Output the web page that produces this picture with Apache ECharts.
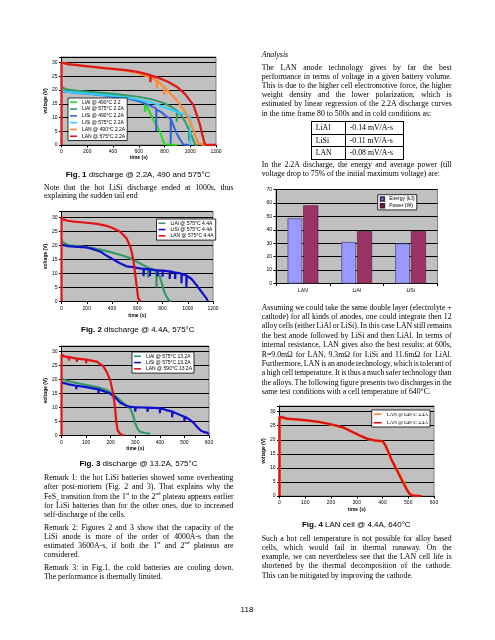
<!DOCTYPE html>
<html><head><meta charset="utf-8">
<script src="https://cdn.jsdelivr.net/npm/echarts@6/dist/echarts.min.js"></script>
<style>
html,body{margin:0;padding:0;background:#fff;width:495px;height:640px;overflow:hidden;}
#chart{position:absolute;left:0;top:0;width:495px;height:640px;}
.t{position:absolute;font-family:"Liberation Serif","Times New Roman",serif;font-size:7.8px;line-height:9.4px;height:9.4px;white-space:nowrap;color:#000;}
.t sup,.t sub{font-size:5px;line-height:0;}
.cap{position:absolute;font-family:"Liberation Sans",Arial,sans-serif;font-size:8px;white-space:nowrap;transform:translate(-50%,-50%);color:#000;}
table.tb{position:absolute;border-collapse:collapse;font-family:"Liberation Serif","Times New Roman",serif;font-size:7.8px;}
table.tb td{border:1px solid #000;padding:0 0 0 4px;height:11.5px;line-height:11px;white-space:nowrap;}
</style></head><body>
<div id="chart"></div>
<div id="txt"></div>
<script>
// ---------- DATA ----------
// Fig. 1 : discharge @ 2.2A, 490 and 575°C  ([time s, voltage V])
const f1Names = ['LiAl @ 490°C 2.2','LiAl @ 575°C 2.2A','LiSi @ 490°C 2.2A','LiSi @ 575°C 2.2A','LAN @ 490°C 2.2A','LAN @ 575°C 2.2A'];
const f1_LiAl490 = [[0,21],[20,20.3],[100,19.8],[200,19.3],[300,18.8],[400,18.2],[500,17.4],[560,16.5],[623,15.5],[649,15],[649,12],[652,14.8],[680,12.5],[714,9],[740,7],[766,4.8],[785,2],[800,0.3],[810,0],[900,0]];
const f1_LiAl575 = [[0,21.2],[30,20.3],[100,19.8],[200,19.4],[300,19],[400,18.6],[500,18.1],[600,17.5],[700,16.6],[780,15.5],[850,14],[895,12.5],[895,8.5],[898,12.4],[930,10.8],[960,8.5],[990,5.5],[990,1.5],[993,5.3],[1010,3.5],[1030,1],[1040,0],[1060,0]];
const f1_LiSi490 = [[0,19.5],[100,19],[200,18.6],[300,18.2],[400,17.6],[500,17],[600,16],[680,14.5],[735,13.3],[735,5],[738,13],[780,11.8],[817,10.3],[848,9.5],[848,0.5],[851,9.3],[870,7],[895,4.2],[920,2],[947,0.2],[960,0],[1000,0]];
const f1_LiSi575 = [[0,19.8],[50,19.3],[100,19.1],[200,18.7],[300,18.3],[400,17.9],[500,17.3],[600,16.5],[700,15.4],[760,14.5],[800,13.6],[850,12.8],[900,12],[950,11.2],[1000,10.5],[1000,0]];
const f1_LAN490 = [[0,29.8],[100,29.2],[200,28.6],[300,28.1],[400,27.7],[500,27],[600,26],[650,25.2],[700,24.5],[740,23.4],[740,20.5],[743,23.3],[766,22.4],[797,21],[797,18.2],[800,20.9],[830,19.5],[895,16.3],[940,13.5],[973,10.9],[1000,8.2],[1025,5.4],[1045,2.8],[1064,0.5],[1075,0],[1120,0]];
const f1_LAN575 = [[0,0],[0,30],[50,29.4],[150,28.9],[246,28.4],[350,27.9],[506,27.2],[600,26.5],[690,25.4],[690,22.8],[693,25.3],[766,24.2],[830,22.9],[895,21.2],[960,18.5],[1025,14.5],[1050,11],[1076,7.3],[1095,3.5],[1110,0.8],[1120,0],[1200,0]];

// Fig. 2 : discharge @ 4.4A, 575°C
const f2Names = ['LiAl @ 575°C 4.4A','LiSi @ 575°C 4.4A','LAN @ 575°C 4.4A'];
const f2_LiAl = [[0,21.6],[30,20.5],[60,20],[150,19.6],[250,19],[350,18],[450,16.8],[520,15.8],[570,14.8],[620,13.6],[686,12],[686,8.5],[689,11.9],[726,11.3],[752,10.2],[752,5],[755,10],[778,8.9],[795,6.5],[805,4.7],[818,3],[831,1.8],[850,0.5],[870,0]];
const f2_LiSi = [[0,20.2],[50,19.7],[100,19.5],[200,19.2],[250,18.6],[305,17.8],[350,16.5],[400,15.2],[463,13.6],[515,12.5],[568,12.2],[620,11.8],[650,11.6],[650,9],[653,11.6],[700,11.4],[700,9],[703,11.4],[726,11.3],[760,11.1],[760,9],[763,11.1],[800,11],[800,8.8],[803,11],[857,10.7],[857,8],[860,10.7],[900,10.3],[900,8],[903,10.3],[950,9.9],[950,6.5],[953,9.8],[989,9.3],[989,5],[992,9.2],[1030,8],[1068,5.9],[1100,4],[1130,2.2],[1147,1.2],[1160,0]];
const f2_LAN = [[0,0],[0,30],[15,29.2],[50,28.7],[100,28.4],[200,28],[280,27.6],[350,27],[400,26.2],[463,24.9],[515,22.5],[540,20],[555,17.8],[570,14.5],[581,10.7],[594,5.9],[607,1.2],[626,0]];

// Fig. 3 : discharge @ 13.2A, 575°C
const f3Names = ['LiAl @ 575°C 13.2A','LiSi @ 575°C 13.2A','LAN @ 590°C 13.2A'];
const f3_LiAl = [[0,20.4],[20,19.6],[50,19],[103,18],[150,17.2],[185,16.2],[210,14.8],[239,12.6],[260,11],[280,9.6],[292,7],[300,4.3],[310,2.3],[320,1.3],[340,0.9],[361,0.7]];
const f3_LiSi = [[0,19],[30,18.3],[60,17.8],[60,16.5],[62,17.8],[100,17.3],[150,16.5],[150,15],[152,16.5],[198,15],[220,13.5],[239,11.7],[260,10.8],[280,10.2],[300,10.1],[300,8.5],[302,10.1],[350,10],[350,8.5],[352,10],[400,9.8],[400,8],[402,9.8],[429,9],[450,8.6],[450,6.5],[452,8.5],[483,7.3],[500,6.7],[500,5],[502,6.7],[524,5.5],[540,4.3],[551,3.1],[565,1.9],[580,1.2],[592,1],[600,0.5]];
const f3_LAN = [[0,0],[0,29],[10,28.3],[30,28],[30,26.8],[32,28],[62,27.5],[62,26.3],[64,27.5],[100,27.1],[100,25.8],[102,27.1],[143,26.4],[170,24.8],[185,22.5],[198,19.8],[210,15],[218,10],[222,5.5],[228,1.9],[239,0.5],[255,0]];

// Fig. 4 : LAN cell @ 4.4A, 640°C
const f4Names = ['LAN @ 640°C 4.4A','LAN @ 640°C 4.4A'];
const f4_LAN_a = [[0,0],[0,28],[30,27.4],[100,26.9],[150,26.3],[200,25.4],[250,24.2],[290,22.4],[310,21.5],[340,20.3],[370,19.7],[400,19.3],[410,18],[423,15.3],[435,12.5],[449,10.5],[462,8.5],[475,6.3],[485,4.5],[494,2.7],[507,0.8],[520,0.2],[540,0]];
const f4_LAN_b = [[0,0],[0,28.2],[30,27.5],[100,27],[150,26.4],[200,25.5],[250,24.3],[290,22.5],[310,21.6],[340,20.4],[370,19.8],[400,19.5],[410,18.3],[423,15.7],[435,13],[449,10.4],[462,8],[475,5.6],[485,3.8],[494,2.3],[507,0.5],[520,0.1],[552,0]];

// Energy / power bar chart
const barCats = ['LAN','LiAl','LiSi'];
const barNames = ['Energy (kJ)','Power (W)'];
const energy = [48.5,30.8,29.8];
const power = [58.2,39,39];

// ---------- CHART ----------
const FONT = '"Liberation Sans", Arial, sans-serif';
const GREY = '#c0c0c0';
function grid(l,t,w,h){return {left:l,top:t,width:w,height:h,show:true,backgroundColor:GREY,borderColor:'#808080',borderWidth:1,containLabel:false};}
function xAx(i,max,interval,nameGap){
  return {type:'value',gridIndex:i,min:0,max:max,interval:interval,
    axisLine:{show:true,onZero:false,lineStyle:{color:'#000',width:1}},
    axisTick:{show:true,length:2.5,lineStyle:{color:'#000'}},
    axisLabel:{fontSize:5,color:'#000',margin:4.5,fontFamily:FONT,formatter:v=>String(v)},
    splitLine:{show:false},
    name:'time (s)',nameLocation:'middle',nameGap:nameGap,
    nameTextStyle:{fontSize:5,fontWeight:'bold',color:'#000',fontFamily:FONT}};
}
function yAx(i){
  return {type:'value',gridIndex:i,min:0,max:32,interval:5,
    axisLine:{show:true,lineStyle:{color:'#000',width:1}},
    axisTick:{show:true,length:2.5,lineStyle:{color:'#000'}},
    axisLabel:{fontSize:5,color:'#000',margin:4,fontFamily:FONT,formatter:v=>(v%5===0?String(v):'')},
    splitLine:{show:true,lineStyle:{color:'#000',width:1}},
    name:'voltage (V)',nameLocation:'middle',nameGap:10,
    nameTextStyle:{fontSize:5,fontWeight:'bold',color:'#000',fontFamily:FONT}};
}
function ln(name,i,data,color,w){
  return {type:'line',name:name,xAxisIndex:i,yAxisIndex:i,data:data,showSymbol:false,
    lineStyle:{color:color,width:w||2},itemStyle:{color:color},animation:false};
}
function leg(ids,left,top,gap,opt){
  return Object.assign({orient:'vertical',left:left,top:top,data:ids,icon:'rect',
    itemWidth:7,itemHeight:1.6,itemGap:gap,padding:[1.5,2,1.5,2],
    backgroundColor:'#fff',borderColor:'#000',borderWidth:0.8,borderRadius:0,
    textStyle:{fontSize:5,color:'#000',fontFamily:FONT,lineHeight:5.5}},opt||{});
}
const c1 = ['#22dd22','#339966','#3366dd','#33ccff','#ff8c33','#dd1a1a'];
const c2 = ['#339966','#1010cc','#e01414'];
const f1Data = [f1_LiAl490,f1_LiAl575,f1_LiSi490,f1_LiSi575,f1_LAN490,f1_LAN575];
const f2Data = [f2_LiAl,f2_LiSi,f2_LAN];
const f3Data = [f3_LiAl,f3_LiSi,f3_LAN];

const series = [];
f1Names.forEach((n,k)=>series.push(ln(n,0,f1Data[k],c1[k],k>=4?2.3:2)));
f2Names.forEach((n,k)=>series.push(ln(n,1,f2Data[k],c2[k],2.2)));
f3Names.forEach((n,k)=>series.push(ln(n,2,f3Data[k],c2[k],2.2)));
series.push(ln('f4a',3,f4_LAN_a,'#ff8833',2.6));
series.push(ln('f4b',3,f4_LAN_b,'#d41414',2.2));
series.push({type:'bar',name:barNames[0],xAxisIndex:4,yAxisIndex:4,data:energy,barWidth:14.5,barGap:'8%',
  itemStyle:{color:'#9999ff',borderColor:'#333366',borderWidth:0.6},animation:false});
series.push({type:'bar',name:barNames[1],xAxisIndex:4,yAxisIndex:4,data:power,barWidth:15,barGap:'8%',
  itemStyle:{color:'#993366',borderColor:'#4d1a33',borderWidth:0.6},animation:false});

const f4Label = {f4a:f4Names[0],f4b:f4Names[1]};
const option = {
  animation:false,
  backgroundColor:'transparent',
  grid:[grid(61.5,57,154.5,88),grid(61.5,211.5,151.5,90),grid(61.5,346,147.5,89.5),grid(279.5,406,154.5,90),grid(276,189.5,161.5,94)],
  xAxis:[xAx(0,1200,200,10),xAx(1,1200,200,11.5),xAx(2,600,100,11),xAx(3,600,100,11.5),
    {type:'category',gridIndex:4,data:barCats,axisLine:{lineStyle:{color:'#000'}},
     axisTick:{show:true,length:2.5,alignWithLabel:false,lineStyle:{color:'#000'}},
     axisLabel:{fontSize:5,color:'#000',margin:5,fontFamily:FONT},splitLine:{show:false}}],
  yAxis:[yAx(0),yAx(1),yAx(2),yAx(3),
    {type:'value',gridIndex:4,min:0,max:70,interval:10,
     axisLine:{show:true,lineStyle:{color:'#000'}},axisTick:{show:true,length:2.5,lineStyle:{color:'#000'}},
     axisLabel:{fontSize:5,color:'#000',margin:4,fontFamily:FONT},
     splitLine:{show:true,lineStyle:{color:'#000',width:1}}}],
  legend:[
    leg(f1Names,68,98,1.3),
    leg(f2Names,156.5,219,0.8),
    leg(f3Names,132,352,0.8),
    leg(['f4a','f4b'],371.7,410,3,{itemWidth:8,formatter:n=>f4Label[n],
      textStyle:{fontSize:5,color:'#000',fontFamily:'"Liberation Serif","Times New Roman",serif',lineHeight:5.5}}),
    leg(barNames,377.7,194.7,1.2,{itemWidth:3.5,itemHeight:3.5})
  ],
  series:series
};
const chart = echarts.init(document.getElementById('chart'),null,{renderer:'canvas'});
chart.setOption(option);

// ---------- TEXT ----------
const L = 44, LW = 189.5, R = 261.7, RW = 190;
const lines = [
 [L,187.3,LW,1,'Note that the hot LiSi discharge ended at 1000s, thus'],
 [L,195.9,LW,0,'explaining the sudden tail end'],
 [L,477.7,LW,1,'Remark 1: the hot LiSi batteries showed some overheating'],
 [L,486.9,LW,1,'after post-mortem (Fig. 2 and 3). That explains why the'],
 [L,496.2,LW,1,'FeS<sub>2</sub> transition from the 1<sup>st</sup> to the 2<sup>nd</sup> plateau appears earlier'],
 [L,505.6,LW,1,'for LiSi batteries than for the other ones, due to increased'],
 [L,515.0,LW,0,'self-discharge of the cells.'],
 [L,527.7,LW,1,'Remark 2: Figures 2 and 3 show that the capacity of the'],
 [L,536.8,LW,1,'LiSi anode is more of the order of 4000A-s than the'],
 [L,545.9,LW,1,'estimated 3600A-s, if both the 1<sup>st</sup> and 2<sup>nd</sup> plateaus are'],
 [L,555.1,LW,0,'considered.'],
 [L,567.4,LW,1,'Remark 3: in Fig.1, the cold batteries are cooling down.'],
 [L,576.7,LW,0,'The performance is thermally limited.'],
 [R,54.3,RW,0,'<i>Analysis</i>'],
 [R,67.3,RW,1,'The LAN anode technology gives by far the best'],
 [R,76.5,RW,1,'performance in terms of voltage in a given battery volume.'],
 [R,85.7,RW,1,'This is due to the higher cell electromotive force, the higher'],
 [R,94.9,RW,1,'weight density and the lower polarization, which is'],
 [R,104.1,RW,1,'estimated by linear regression of the 2.2A discharge curves'],
 [R,113.3,RW,0,'in the time frame 80 to 500s and in cold conditions as:'],
 [R,164.7,RW,1,'In the 2.2A discharge, the energy and average power (till'],
 [R,173.4,RW,0,'voltage drop to 75% of the initial maximum voltage) are:'],
 [R,307.3,RW,1,'Assuming we could take the same double layer (electrolyte +'],
 [R,316.7,RW,1,'cathode) for all kinds of anodes, one could integrate then 12'],
 [R,326.1,RW,1,'alloy cells (either LiAl or LiSi). In this case LAN still remains'],
 [R,335.4,RW,1,'the best anode followed by LiSi and then LiAl. In terms of'],
 [R,344.8,RW,1,'internal resistance, LAN gives also the best results: at 600s,'],
 [R,354.2,RW,1,'R=9.0mΩ for LAN, 9.3mΩ for LiSi and 11.6mΩ for LiAl.'],
 [R,363.6,RW,1,'Furthermore, LAN is an anode technology, which is tolerant of'],
 [R,372.9,RW,1,'a high cell temperature. It is thus a much safer technology than'],
 [R,382.3,RW,1,'the alloys. The following figure presents two discharges in the'],
 [R,391.7,RW,0,'same test conditions with a cell temperature of 640°C.'],
 [R,538.3,RW,1,'Such a hot cell temperature is not possible for alloy based'],
 [R,547.6,RW,1,'cells, which would fail in thermal runaway. On the'],
 [R,556.9,RW,1,'example, we can nevertheless see that the LAN cell life is'],
 [R,566.1,RW,1,'shortened by the thermal decomposition of the cathode.'],
 [R,575.3,RW,0,'This can be mitigated by improving the cathode.']
];
const captions = [
 [138,174,'<b>Fig. 1</b> discharge @ 2.2A, 490 and 575°C'],
 [137.8,329,'<b>Fig. 2</b> discharge @ 4.4A, 575°C'],
 [138.5,462.7,'<b>Fig. 3</b> discharge @ 13.2A, 575°C'],
 [356.3,523.7,'<b>Fig. 4</b> LAN cell @ 4.4A, 640°C'],
 [247,609.3,'118']
];
const tableRows = [['LiAl','-0.14 mV/A-s'],['LiSi','-0.11 mV/A-s'],['LAN','-0.08 mV/A-s']];

const txt = document.getElementById('txt');
const spans = [];
lines.forEach(([x,y,w,j,h])=>{
  const d = document.createElement('div');
  d.className='t'; d.style.left=x+'px'; d.style.top=(y-4.7)+'px';
  const s = document.createElement('span'); s.innerHTML=h; d.appendChild(s);
  txt.appendChild(d); spans.push([s,w,j,h]);
});
captions.forEach(([x,y,h])=>{
  const d=document.createElement('div'); d.className='cap';
  d.style.left=x+'px'; d.style.top=y+'px'; d.innerHTML=h; txt.appendChild(d);
});
const tb=document.createElement('table'); tb.className='tb';
tb.style.left='310.7px'; tb.style.top='121px';
tableRows.forEach(r=>{const tr=document.createElement('tr');
  r.forEach((c,k)=>{const td=document.createElement('td');td.textContent=c;td.style.width=(k?53:29)+'px';tr.appendChild(td);});
  tb.appendChild(tr);});
txt.appendChild(tb);
function justify(){
  spans.forEach(([s,w,j,h])=>{
    if(!j) return;
    s.style.wordSpacing='0px';
    const nat=s.getBoundingClientRect().width;
    const n=(s.textContent.match(/ /g)||[]).length;
    if(n>0) s.style.wordSpacing=((w-nat)/n)+'px';
  });
}
justify();
if(document.fonts&&document.fonts.ready) document.fonts.ready.then(justify);
</script>
</body></html>
